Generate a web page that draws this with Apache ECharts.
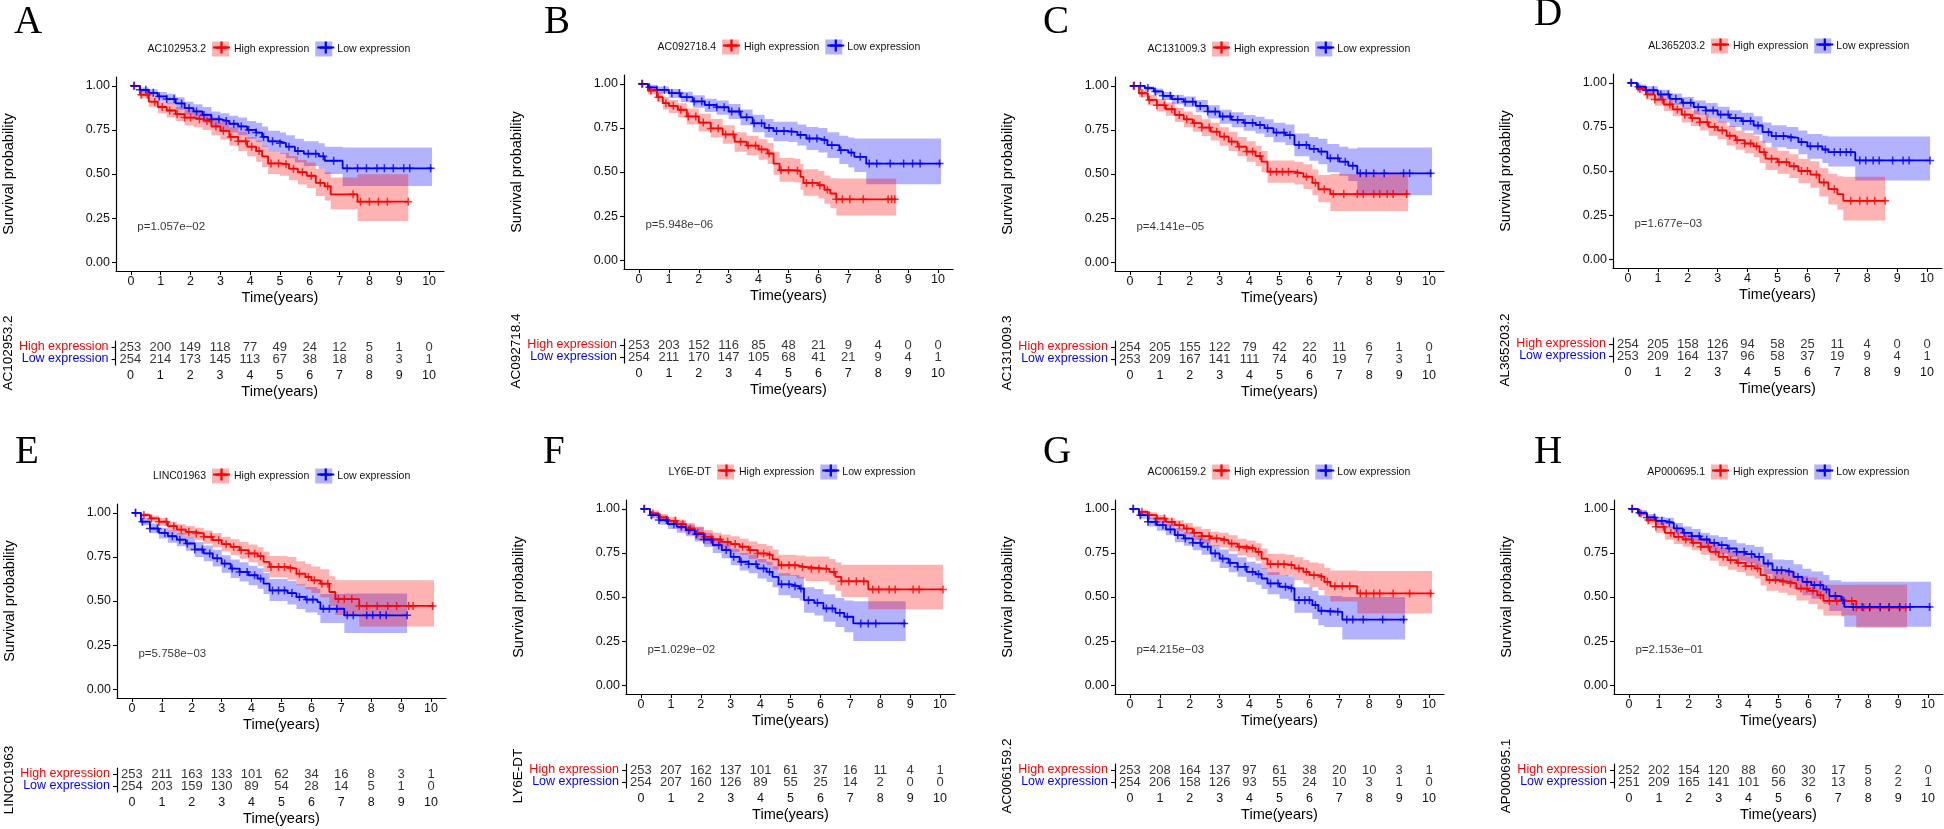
<!DOCTYPE html>
<html>
<head>
<meta charset="utf-8">
<script src="https://cdn.jsdelivr.net/npm/echarts@6/dist/echarts.min.js"></script>
<style>
  html, body { margin: 0; padding: 0; background: #fff; }
  #chart { width: 1944px; height: 829px; }
</style>
</head>
<body>
<div id="chart"></div>
<script>
'use strict';

var letters = ['A', 'B', 'C', 'D', 'E', 'F', 'G', 'H'];
var genes = ['AC102953.2', 'AC092718.4', 'AC131009.3', 'AL365203.2', 'LINC01963', 'LY6E-DT', 'AC006159.2', 'AP000695.1'];
var pvals = ['p=1.057e\u221202', 'p=5.948e\u221206', 'p=4.141e\u221205', 'p=1.677e\u221203', 'p=5.758e\u221203', 'p=1.029e\u221202', 'p=4.215e\u221203', 'p=2.153e\u221201'];
var years = [0, 1, 2, 3, 4, 5, 6, 7, 8, 9, 10];
var survTicks = [0, 0.25, 0.5, 0.75, 1];
var groups = ['Low expression', 'High expression'];

// curve rows: [time, survival, lower CI, upper CI]
var aHigh = [[0,1,1,1],[0.3,0.95,0.93,0.97],[0.6,0.91,0.88,0.94],[0.9,0.88,0.845,0.915],[1.2,0.86,0.82,0.9],[1.5,0.84,0.8,0.88],[1.8,0.82,0.775,0.865],[2.1,0.81,0.765,0.855],[2.4,0.8,0.75,0.845],[2.7,0.77,0.72,0.82],[3.0,0.745,0.695,0.795],[3.3,0.71,0.66,0.765],[3.6,0.685,0.63,0.74],[3.9,0.655,0.6,0.71],[4.2,0.63,0.57,0.69],[4.4,0.6,0.54,0.66],[4.6,0.56,0.5,0.625],[5.0,0.555,0.49,0.62],[5.3,0.53,0.465,0.6],[5.6,0.51,0.44,0.58],[5.9,0.49,0.42,0.565],[6.2,0.45,0.375,0.53],[6.5,0.43,0.35,0.51],[6.7,0.385,0.3,0.48],[7.6,0.343,0.233,0.498],[9.3,0.343,0.233,0.498]];
var aLow = [[0,1,1,1],[0.3,0.977,0.96,0.99],[0.6,0.96,0.94,0.98],[0.9,0.94,0.915,0.965],[1.2,0.925,0.895,0.955],[1.5,0.9,0.865,0.935],[1.8,0.873,0.835,0.91],[2.1,0.855,0.815,0.895],[2.4,0.835,0.79,0.88],[2.7,0.81,0.765,0.855],[3.0,0.8,0.75,0.845],[3.3,0.785,0.735,0.83],[3.6,0.77,0.72,0.82],[3.9,0.75,0.7,0.8],[4.2,0.735,0.68,0.79],[4.4,0.71,0.655,0.77],[4.6,0.685,0.625,0.745],[5.0,0.675,0.615,0.735],[5.2,0.655,0.59,0.72],[5.5,0.63,0.565,0.7],[5.8,0.615,0.545,0.685],[6.3,0.6,0.53,0.675],[6.5,0.575,0.5,0.655],[7.1,0.532,0.432,0.65],[10.1,0.532,0.432,0.65]];
var bHigh = [[0,1,1,1],[0.3,0.962,0.94,0.98],[0.6,0.924,0.895,0.955],[0.8,0.89,0.855,0.925],[1.0,0.875,0.835,0.91],[1.3,0.853,0.81,0.89],[1.6,0.815,0.77,0.86],[2.0,0.78,0.73,0.83],[2.4,0.747,0.695,0.8],[2.8,0.713,0.66,0.765],[3.2,0.672,0.615,0.725],[3.6,0.65,0.595,0.705],[4.0,0.628,0.57,0.685],[4.3,0.605,0.545,0.665],[4.5,0.548,0.485,0.615],[4.7,0.51,0.445,0.58],[5.2,0.507,0.44,0.575],[5.4,0.472,0.4,0.545],[5.5,0.438,0.365,0.515],[6.0,0.425,0.35,0.505],[6.2,0.4,0.32,0.48],[6.4,0.378,0.295,0.465],[6.6,0.345,0.254,0.463],[8.6,0.345,0.254,0.463]];
var bLow = [[0,1,1,1],[0.3,0.98,0.965,0.995],[0.6,0.966,0.945,0.985],[1.0,0.947,0.92,0.97],[1.4,0.924,0.895,0.955],[1.8,0.9,0.865,0.935],[2.2,0.88,0.84,0.915],[2.6,0.867,0.825,0.905],[3.0,0.843,0.8,0.885],[3.4,0.81,0.765,0.855],[3.8,0.776,0.725,0.825],[4.2,0.75,0.695,0.8],[4.5,0.732,0.675,0.785],[5.0,0.728,0.67,0.785],[5.3,0.71,0.65,0.77],[5.6,0.69,0.625,0.755],[6.0,0.68,0.61,0.75],[6.3,0.652,0.58,0.725],[6.7,0.624,0.545,0.705],[7.0,0.61,0.525,0.695],[7.2,0.586,0.5,0.69],[7.6,0.548,0.43,0.69],[10.1,0.548,0.43,0.69]];
var cHigh = [[0,1,1,1],[0.3,0.958,0.935,0.98],[0.6,0.92,0.89,0.95],[0.9,0.89,0.855,0.925],[1.2,0.867,0.83,0.905],[1.5,0.835,0.795,0.875],[1.8,0.81,0.765,0.855],[2.1,0.788,0.74,0.835],[2.4,0.763,0.715,0.81],[2.7,0.74,0.69,0.79],[3.0,0.712,0.66,0.765],[3.3,0.684,0.63,0.74],[3.6,0.655,0.6,0.71],[3.9,0.627,0.57,0.685],[4.2,0.602,0.545,0.66],[4.4,0.57,0.51,0.63],[4.6,0.513,0.45,0.577],[5.5,0.504,0.44,0.57],[5.8,0.485,0.415,0.555],[6.1,0.45,0.38,0.525],[6.3,0.413,0.34,0.495],[6.7,0.386,0.29,0.5],[9.3,0.386,0.29,0.5]];
var cLow = [[0,1,1,1],[0.5,0.987,0.975,0.998],[0.8,0.968,0.95,0.985],[1.1,0.943,0.92,0.965],[1.4,0.924,0.895,0.95],[1.8,0.91,0.88,0.94],[2.2,0.886,0.85,0.92],[2.6,0.854,0.815,0.89],[3.0,0.826,0.785,0.865],[3.4,0.807,0.765,0.85],[3.8,0.79,0.745,0.835],[4.2,0.778,0.73,0.825],[4.5,0.76,0.71,0.81],[4.8,0.735,0.68,0.79],[5.2,0.72,0.665,0.78],[5.5,0.665,0.6,0.73],[6.0,0.642,0.575,0.71],[6.3,0.627,0.555,0.7],[6.6,0.589,0.51,0.67],[7.0,0.57,0.49,0.655],[7.3,0.547,0.46,0.645],[7.6,0.504,0.38,0.65],[10.1,0.504,0.38,0.65]];
var dHigh = [[0,1,1,1],[0.3,0.966,0.945,0.985],[0.6,0.934,0.905,0.96],[0.9,0.905,0.87,0.935],[1.2,0.877,0.84,0.91],[1.5,0.849,0.81,0.885],[1.8,0.82,0.775,0.86],[2.1,0.8,0.755,0.845],[2.4,0.777,0.73,0.825],[2.7,0.75,0.7,0.8],[3.0,0.73,0.68,0.78],[3.3,0.7,0.645,0.755],[3.6,0.675,0.62,0.73],[3.9,0.656,0.6,0.715],[4.2,0.64,0.58,0.7],[4.4,0.607,0.545,0.67],[4.6,0.57,0.505,0.635],[5.0,0.55,0.485,0.615],[5.4,0.527,0.46,0.595],[5.7,0.5,0.43,0.57],[6.1,0.48,0.405,0.555],[6.4,0.435,0.355,0.515],[6.7,0.397,0.31,0.485],[7.0,0.369,0.28,0.47],[7.2,0.331,0.22,0.467],[8.6,0.331,0.22,0.467]];
var dLow = [[0,1,1,1],[0.3,0.977,0.96,0.99],[0.6,0.958,0.935,0.98],[1.0,0.934,0.905,0.96],[1.4,0.909,0.875,0.94],[1.8,0.887,0.85,0.92],[2.2,0.862,0.82,0.9],[2.6,0.843,0.8,0.885],[3.0,0.82,0.775,0.865],[3.4,0.8,0.75,0.845],[3.8,0.783,0.73,0.83],[4.2,0.758,0.705,0.81],[4.5,0.72,0.66,0.775],[4.8,0.698,0.635,0.76],[5.3,0.688,0.625,0.75],[5.7,0.664,0.595,0.73],[6.0,0.64,0.57,0.71],[6.5,0.622,0.545,0.7],[6.7,0.607,0.525,0.696],[7.6,0.56,0.446,0.696],[10.1,0.56,0.446,0.696]];
var eHigh = [[0,1,1,1],[0.3,0.987,0.975,0.998],[0.6,0.968,0.95,0.985],[0.9,0.95,0.925,0.97],[1.2,0.924,0.895,0.95],[1.5,0.905,0.875,0.935],[1.8,0.892,0.86,0.925],[2.1,0.883,0.845,0.915],[2.4,0.864,0.825,0.9],[2.7,0.845,0.805,0.885],[3.0,0.822,0.78,0.865],[3.3,0.807,0.76,0.85],[3.6,0.788,0.74,0.835],[3.9,0.77,0.72,0.82],[4.2,0.754,0.7,0.805],[4.4,0.722,0.665,0.78],[4.6,0.693,0.635,0.755],[5.2,0.684,0.62,0.75],[5.5,0.655,0.59,0.725],[5.8,0.636,0.565,0.71],[6.0,0.617,0.545,0.695],[6.3,0.598,0.52,0.68],[6.6,0.551,0.47,0.64],[6.8,0.511,0.42,0.617],[7.6,0.472,0.356,0.617],[10.1,0.472,0.356,0.617]];
var eLow = [[0,1,1,1],[0.3,0.95,0.93,0.97],[0.6,0.911,0.885,0.94],[0.9,0.886,0.855,0.915],[1.2,0.867,0.83,0.9],[1.5,0.848,0.81,0.885],[1.8,0.826,0.785,0.865],[2.1,0.792,0.75,0.835],[2.4,0.77,0.725,0.815],[2.7,0.742,0.695,0.79],[3.0,0.712,0.66,0.76],[3.3,0.684,0.63,0.735],[3.6,0.665,0.61,0.72],[3.9,0.646,0.59,0.7],[4.2,0.627,0.57,0.685],[4.4,0.598,0.54,0.66],[4.6,0.56,0.5,0.625],[5.2,0.545,0.48,0.615],[5.5,0.523,0.455,0.595],[5.8,0.508,0.435,0.58],[6.2,0.494,0.42,0.57],[6.3,0.456,0.375,0.54],[7.1,0.419,0.318,0.542],[9.2,0.419,0.318,0.542]];
var fHigh = [[0,1,1,1],[0.3,0.974,0.96,0.99],[0.6,0.951,0.93,0.97],[0.9,0.932,0.905,0.955],[1.2,0.913,0.885,0.94],[1.5,0.889,0.855,0.92],[1.8,0.864,0.825,0.9],[2.1,0.841,0.8,0.88],[2.4,0.826,0.785,0.865],[2.7,0.813,0.77,0.855],[3.0,0.8,0.755,0.845],[3.3,0.785,0.74,0.83],[3.6,0.766,0.715,0.815],[3.9,0.747,0.695,0.8],[4.2,0.737,0.68,0.79],[4.4,0.713,0.655,0.77],[4.6,0.68,0.62,0.74],[5.2,0.67,0.605,0.735],[5.5,0.66,0.59,0.73],[6.3,0.643,0.57,0.715],[6.5,0.614,0.535,0.695],[6.7,0.589,0.5,0.683],[7.6,0.543,0.43,0.683],[10.1,0.543,0.43,0.683]];
var fLow = [[0,1,1,1],[0.3,0.964,0.945,0.98],[0.6,0.936,0.91,0.96],[0.9,0.913,0.885,0.94],[1.2,0.898,0.865,0.93],[1.5,0.879,0.845,0.91],[1.8,0.856,0.815,0.895],[2.1,0.826,0.785,0.865],[2.4,0.794,0.75,0.835],[2.7,0.766,0.72,0.81],[3.0,0.728,0.68,0.775],[3.3,0.7,0.65,0.75],[3.6,0.686,0.635,0.74],[3.9,0.662,0.605,0.715],[4.2,0.643,0.585,0.7],[4.4,0.614,0.555,0.675],[4.6,0.572,0.51,0.635],[5.0,0.561,0.495,0.625],[5.3,0.548,0.48,0.615],[5.45,0.482,0.41,0.555],[5.8,0.467,0.395,0.545],[6.1,0.435,0.36,0.515],[6.5,0.41,0.33,0.495],[6.8,0.388,0.3,0.48],[7.1,0.35,0.251,0.476],[8.85,0.35,0.251,0.476]];
var gHigh = [[0,1,1,1],[0.3,0.983,0.97,0.995],[0.6,0.964,0.945,0.98],[0.9,0.945,0.92,0.965],[1.2,0.926,0.9,0.95],[1.5,0.907,0.875,0.935],[1.8,0.888,0.855,0.92],[2.1,0.864,0.825,0.9],[2.4,0.845,0.805,0.885],[2.7,0.832,0.79,0.87],[3.0,0.822,0.78,0.865],[3.3,0.803,0.76,0.85],[3.6,0.785,0.735,0.83],[3.9,0.775,0.725,0.82],[4.2,0.756,0.705,0.805],[4.4,0.718,0.66,0.775],[4.6,0.686,0.625,0.745],[5.2,0.68,0.62,0.74],[5.5,0.662,0.595,0.725],[5.8,0.643,0.575,0.71],[6.0,0.624,0.555,0.695],[6.3,0.614,0.54,0.69],[6.5,0.586,0.505,0.665],[6.7,0.561,0.475,0.65],[7.6,0.52,0.406,0.648],[10.1,0.52,0.406,0.648]];
var gLow = [[0,1,1,1],[0.3,0.964,0.945,0.98],[0.6,0.926,0.9,0.95],[0.9,0.907,0.875,0.935],[1.2,0.883,0.85,0.915],[1.5,0.851,0.81,0.89],[1.8,0.832,0.79,0.87],[2.1,0.807,0.765,0.85],[2.4,0.785,0.74,0.83],[2.7,0.747,0.7,0.795],[3.0,0.718,0.665,0.77],[3.3,0.694,0.64,0.745],[3.6,0.671,0.615,0.725],[3.9,0.643,0.585,0.7],[4.2,0.629,0.57,0.69],[4.4,0.605,0.545,0.665],[4.6,0.577,0.515,0.64],[5.0,0.558,0.49,0.625],[5.3,0.548,0.48,0.618],[5.5,0.482,0.41,0.555],[6.1,0.454,0.375,0.535],[6.3,0.422,0.34,0.51],[6.5,0.416,0.33,0.505],[7.1,0.372,0.259,0.5],[9.2,0.372,0.259,0.5]];
var hHigh = [[0,1,1,1],[0.3,0.974,0.96,0.99],[0.6,0.936,0.91,0.96],[0.9,0.898,0.865,0.93],[1.2,0.864,0.825,0.9],[1.5,0.841,0.8,0.88],[1.8,0.826,0.785,0.865],[2.1,0.807,0.765,0.85],[2.4,0.785,0.74,0.83],[2.7,0.756,0.705,0.805],[3.0,0.728,0.675,0.78],[3.3,0.709,0.655,0.76],[3.6,0.694,0.64,0.75],[3.9,0.675,0.62,0.73],[4.2,0.662,0.605,0.72],[4.4,0.624,0.565,0.685],[4.6,0.597,0.535,0.66],[5.0,0.587,0.524,0.652],[5.3,0.577,0.51,0.645],[5.6,0.548,0.48,0.62],[6.0,0.535,0.46,0.61],[6.3,0.51,0.43,0.595],[6.5,0.478,0.395,0.57],[7.6,0.44,0.325,0.571],[9.3,0.44,0.325,0.571]];
var hLow = [[0,1,1,1],[0.3,0.977,0.96,0.99],[0.6,0.951,0.93,0.97],[0.9,0.932,0.905,0.955],[1.2,0.921,0.89,0.95],[1.5,0.889,0.855,0.92],[1.8,0.864,0.825,0.9],[2.1,0.845,0.805,0.885],[2.4,0.826,0.785,0.865],[2.7,0.807,0.76,0.85],[3.0,0.794,0.745,0.84],[3.3,0.775,0.725,0.825],[3.6,0.756,0.705,0.805],[3.9,0.743,0.69,0.795],[4.2,0.728,0.67,0.785],[4.5,0.69,0.63,0.75],[4.8,0.652,0.586,0.713],[5.2,0.643,0.575,0.71],[5.5,0.614,0.545,0.685],[5.8,0.586,0.51,0.66],[6.1,0.567,0.49,0.645],[6.5,0.543,0.46,0.625],[6.7,0.505,0.42,0.595],[7.1,0.482,0.39,0.586],[7.2,0.444,0.331,0.586],[10.1,0.444,0.331,0.586]];

// censoring times
var aHighCens = [0.12,0.35,0.55,0.8,1.05,1.3,1.55,1.8,2.0,2.3,2.55,2.85,3.1,3.35,3.6,3.85,4.05,4.3,4.7,4.95,5.2,5.45,5.75,6.05,6.35,6.6,7.45,7.7,8.0,8.3,8.6,9.3];
var aLowCens = [0.1,0.3,0.5,0.75,0.95,1.2,1.45,1.7,1.95,2.2,2.45,2.7,2.95,3.2,3.45,3.7,3.95,4.2,4.45,4.75,5.0,5.3,5.6,5.95,6.2,6.45,6.8,7.25,7.6,7.9,8.25,8.5,8.8,9.15,9.35,10.05];
var bHighCens = [0.12,0.4,0.65,0.9,1.15,1.4,1.65,1.9,2.15,2.4,2.65,2.9,3.15,3.4,3.65,3.9,4.1,4.35,4.75,5.0,5.3,5.6,5.8,6.05,6.3,6.6,6.8,7.05,7.5,8.33,8.45,8.55];
var bLowCens = [0.1,0.35,0.6,0.85,1.1,1.35,1.6,1.85,2.1,2.35,2.6,2.85,3.1,3.35,3.6,3.85,4.1,4.35,4.6,4.85,5.1,5.4,5.7,5.95,6.2,6.45,6.75,7.1,7.4,7.7,7.95,8.4,8.85,9.15,9.4,10.05];
var cHighCens = [0.15,0.4,0.65,0.9,1.15,1.4,1.65,1.9,2.15,2.4,2.65,2.9,3.15,3.4,3.65,3.9,4.1,4.35,4.7,4.9,5.1,5.3,5.6,5.9,6.2,6.5,6.8,7.15,7.6,7.8,8.15,8.35,8.6,8.8,9.25];
var cLowCens = [0.12,0.35,0.6,0.85,1.1,1.35,1.6,1.85,2.1,2.35,2.6,2.85,3.1,3.35,3.6,3.85,4.1,4.35,4.6,4.9,5.15,5.35,5.65,5.9,6.15,6.4,6.7,6.95,7.2,7.45,7.7,7.9,8.15,8.5,9.15,9.35,10.05];
var dHighCens = [0.12,0.4,0.65,0.9,1.15,1.4,1.65,1.9,2.15,2.4,2.65,2.9,3.15,3.4,3.65,3.9,4.1,4.3,4.55,4.8,5.05,5.3,5.55,5.8,6.0,6.3,6.55,6.9,7.45,7.75,8.0,8.25,8.6];
var dLowCens = [0.1,0.35,0.6,0.85,1.1,1.35,1.6,1.85,2.1,2.35,2.6,2.85,3.1,3.35,3.6,3.85,4.1,4.35,4.7,4.95,5.2,5.45,5.8,6.1,6.35,6.6,6.9,7.1,7.3,7.45,7.75,7.95,8.2,8.4,8.85,9.2,9.4,10.1];
var eHighCens = [0.12,0.4,0.65,0.9,1.15,1.4,1.65,1.9,2.15,2.4,2.65,2.9,3.15,3.4,3.65,3.9,4.1,4.3,4.65,4.9,5.1,5.3,5.6,5.9,6.1,6.35,6.55,6.9,7.1,7.35,7.6,7.85,8.2,8.55,8.85,9.25,9.4,10.05];
var eLowCens = [0.12,0.35,0.6,0.85,1.1,1.35,1.6,1.85,2.1,2.35,2.6,2.85,3.1,3.35,3.6,3.85,4.1,4.3,4.7,4.9,5.1,5.35,5.6,5.85,6.05,6.4,6.6,6.85,7.2,7.4,7.85,8.05,8.3,8.5,9.2];
var fHighCens = [0.12,0.4,0.65,0.9,1.15,1.4,1.65,1.9,2.15,2.4,2.65,2.9,3.15,3.4,3.65,3.9,4.1,4.3,4.7,4.95,5.15,5.4,5.7,5.95,6.2,6.45,6.7,6.95,7.2,7.45,7.75,7.95,8.3,8.5,9.1,9.3,10.1];
var fLowCens = [0.1,0.35,0.6,0.85,1.1,1.35,1.6,1.85,2.1,2.35,2.6,2.85,3.1,3.35,3.6,3.85,4.1,4.3,4.7,4.95,5.15,5.35,5.6,5.9,6.2,6.4,6.65,6.9,7.35,7.6,7.85,8.8];
var gHighCens = [0.12,0.4,0.65,0.9,1.15,1.4,1.65,1.9,2.15,2.4,2.65,2.9,3.15,3.4,3.65,3.9,4.1,4.3,4.7,4.95,5.15,5.4,5.65,5.9,6.15,6.4,6.6,6.85,7.1,7.35,7.7,7.9,8.15,8.35,8.8,9.35,10.05];
var gLowCens = [0.1,0.35,0.6,0.85,1.1,1.35,1.6,1.85,2.1,2.35,2.6,2.85,3.1,3.35,3.6,3.85,4.1,4.3,4.7,4.95,5.2,5.4,5.65,5.85,6.0,6.2,6.4,6.7,6.95,7.25,7.45,7.8,8.45,9.15];
var hHighCens = [0.12,0.4,0.65,0.9,1.15,1.4,1.65,1.9,2.15,2.4,2.65,2.9,3.15,3.4,3.65,3.9,4.1,4.3,4.7,4.9,5.15,5.4,5.75,5.95,6.15,6.4,6.7,6.95,7.2,7.45,7.6,7.85,8.05,8.4,8.7,9.05,9.25];
var hLowCens = [0.1,0.35,0.6,0.85,1.1,1.35,1.6,1.85,2.1,2.35,2.6,2.85,3.1,3.35,3.6,3.85,4.1,4.35,4.65,4.95,5.1,5.35,5.65,5.95,6.2,6.4,6.6,6.9,7.15,7.5,7.8,8.05,8.4,8.7,9.05,9.4,10.05];

// number at risk, years 0..10
var aHighRisk = [253,200,149,118,77,49,24,12,5,1,0];
var aLowRisk = [254,214,173,145,113,67,38,18,8,3,1];
var bHighRisk = [253,203,152,116,85,48,21,9,4,0,0];
var bLowRisk = [254,211,170,147,105,68,41,21,9,4,1];
var cHighRisk = [254,205,155,122,79,42,22,11,6,1,0];
var cLowRisk = [253,209,167,141,111,74,40,19,7,3,1];
var dHighRisk = [254,205,158,126,94,58,25,11,4,0,0];
var dLowRisk = [253,209,164,137,96,58,37,19,9,4,1];
var eHighRisk = [253,211,163,133,101,62,34,16,8,3,1];
var eLowRisk = [254,203,159,130,89,54,28,14,5,1,0];
var fHighRisk = [253,207,162,137,101,61,37,16,11,4,1];
var fLowRisk = [254,207,160,126,89,55,25,14,2,0,0];
var gHighRisk = [253,208,164,137,97,61,38,20,10,3,1];
var gLowRisk = [254,206,158,126,93,55,24,10,3,1,0];
var hHighRisk = [252,202,154,120,88,60,30,17,5,2,0];
var hLowRisk = [251,209,165,141,101,56,32,13,8,2,1];

var highCurves = [aHigh, bHigh, cHigh, dHigh, eHigh, fHigh, gHigh, hHigh];
var lowCurves = [aLow, bLow, cLow, dLow, eLow, fLow, gLow, hLow];
var highCens = [aHighCens, bHighCens, cHighCens, dHighCens, eHighCens, fHighCens, gHighCens, hHighCens];
var lowCens = [aLowCens, bLowCens, cLowCens, dLowCens, eLowCens, fLowCens, gLowCens, hLowCens];
var highRisk = [aHighRisk, bHighRisk, cHighRisk, dHighRisk, eHighRisk, fHighRisk, gHighRisk, hHighRisk];
var lowRisk = [aLowRisk, bLowRisk, cLowRisk, dLowRisk, eLowRisk, fLowRisk, gLowRisk, hLowRisk];

// layout (pixels)
var panelLeft = [115, 624, 1115, 1613, 117, 626, 1115, 1614];
var panelTop = [77, 75, 77, 74, 504, 500, 500, 500];
var keyLeft = [212, 722, 1212, 1711, 212, 717, 1212, 1711];
var letterX = [14, 544, 1043, 1534, 15, 543, 1043, 1534];
var letterBase = [37, 37, 37, 29, 467, 467, 467, 467];
var plotW = 329, plotH = 194;

var RED = '#FF0000', BLUE = '#0000FF';
var RED_BAND = 'rgba(255,0,0,0.3)', BLUE_BAND = 'rgba(0,0,255,0.3)';
var SANS = '"Liberation Sans", Arial, Helvetica, sans-serif';
var PLUS = 'path://M0,3.25H8V4.75H0Z M3.25,0H4.75V8H3.25Z';

function survAt(rows, t) {
  var s = rows[0][1];
  for (var k = 0; k < rows.length; k++) {
    if (rows[k][0] <= t) s = rows[k][1];
  }
  return s;
}

function bandSeries(rows, color, idx) {
  return {
    type: 'custom', xAxisIndex: idx, yAxisIndex: idx, silent: true,
    data: [[0, 0]],
    renderItem: function (params, api) {
      var up = [], dn = [];
      for (var k = 0; k < rows.length - 1; k++) {
        up.push(api.coord([rows[k][0], rows[k][3]]), api.coord([rows[k + 1][0], rows[k][3]]));
        dn.push(api.coord([rows[k][0], rows[k][2]]), api.coord([rows[k + 1][0], rows[k][2]]));
      }
      return {type: 'polygon', shape: {points: up.concat(dn.reverse())}, style: {fill: color}};
    }
  };
}

function curveSeries(name, rows, color, idx) {
  return {
    type: 'line', name: name, xAxisIndex: idx, yAxisIndex: idx,
    step: 'end', symbol: PLUS, showSymbol: false, silent: true,
    color: color,
    lineStyle: {color: color, width: 1.8},
    data: rows.map(function (r) { return [r[0], r[1]]; })
  };
}

function censSeries(rows, times, color, idx) {
  return {
    type: 'scatter', name: 'censor', xAxisIndex: idx, yAxisIndex: idx, silent: true,
    symbol: PLUS, symbolSize: 8,
    itemStyle: {color: color},
    data: times.map(function (t) { return [t, survAt(rows, t)]; })
  };
}

function axisX(idx) {
  return {
    type: 'value', gridIndex: idx, min: -0.5, max: 10.5,
    name: 'Time(years)', nameLocation: 'middle', nameGap: 19,
    nameTextStyle: {fontFamily: SANS, fontSize: 14.5, color: '#000'},
    axisLine: {onZero: false, lineStyle: {color: '#000', width: 1.2}},
    axisTick: {customValues: years, length: 4, lineStyle: {color: '#000', width: 1.1}},
    axisLabel: {customValues: years, margin: 4, fontFamily: SANS, fontSize: 12.5, color: '#111'},
    splitLine: {show: false}
  };
}

var grids = [], xAxes = [], yAxes = [], series = [], legends = [], graphics = [];

for (var i = 0; i < 8; i++) {
  var pi = 2 * i, ri = 2 * i + 1;
  grids.push({left: panelLeft[i], top: panelTop[i], width: plotW, height: plotH});
  grids.push({left: panelLeft[i], top: panelTop[i] + 264, width: plotW, height: 24});

  xAxes.push(axisX(pi));
  xAxes.push(axisX(ri));

  yAxes.push({
    type: 'value', gridIndex: pi, min: -0.05, max: 1.05,
    name: 'Survival probability', nameLocation: 'middle', nameGap: 100, nameRotate: 90,
    nameTextStyle: {fontFamily: SANS, fontSize: 14.5, color: '#000'},
    axisLine: {show: true, onZero: false, lineStyle: {color: '#000', width: 1.2}},
    axisTick: {show: true, customValues: survTicks, length: 4, lineStyle: {color: '#000', width: 1.1}},
    axisLabel: {customValues: survTicks, margin: 6, fontFamily: SANS, fontSize: 12.5, color: '#111',
      formatter: function (v) { return v.toFixed(2); }},
    splitLine: {show: false}
  });
  yAxes.push({
    type: 'category', gridIndex: ri, data: groups,
    name: genes[i], nameLocation: 'middle', nameGap: 100, nameRotate: 90,
    nameTextStyle: {fontFamily: SANS, fontSize: 13.5, color: '#000'},
    axisLine: {show: true, onZero: false, lineStyle: {color: '#000', width: 1.2}},
    axisTick: {show: true, alignWithLabel: true, interval: 0, length: 4, lineStyle: {color: '#000', width: 1.1}},
    axisLabel: {interval: 0, margin: 7, fontFamily: SANS, fontSize: 12.5,
      color: function (v) { return v === 'High expression' ? RED : BLUE; }},
    splitLine: {show: false}
  });

  series.push(bandSeries(lowCurves[i], BLUE_BAND, pi));
  series.push(bandSeries(highCurves[i], RED_BAND, pi));
  series.push(curveSeries('High expression', highCurves[i], RED, pi));
  series.push(curveSeries('Low expression', lowCurves[i], BLUE, pi));
  series.push(censSeries(highCurves[i], highCens[i], RED, pi));
  series.push(censSeries(lowCurves[i], lowCens[i], BLUE, pi));
  series.push({
    type: 'scatter', xAxisIndex: pi, yAxisIndex: pi, silent: true,
    symbolSize: 1, itemStyle: {color: 'rgba(0,0,0,0)'},
    label: {show: true, position: 'right', distance: 0, formatter: pvals[i],
      fontFamily: SANS, fontSize: 11.5, color: '#000'},
    data: [[0.2, 0.2]]
  });

  var riskData = [];
  for (var k = 0; k < years.length; k++) {
    riskData.push([years[k], 'High expression', highRisk[i][k]]);
    riskData.push([years[k], 'Low expression', lowRisk[i][k]]);
  }
  series.push({
    type: 'scatter', xAxisIndex: ri, yAxisIndex: ri, silent: true,
    symbolSize: 1, itemStyle: {color: 'rgba(0,0,0,0)'},
    label: {show: true, position: 'inside', fontFamily: SANS, fontSize: 13, color: '#000',
      formatter: function (p) { return String(p.value[2]); }},
    data: riskData
  });

  var legTop = panelTop[i] - 35.5;
  legends.push({
    left: keyLeft[i], top: legTop, orient: 'horizontal', padding: 0,
    itemWidth: 17, itemHeight: 15, itemGap: 6, selectedMode: false,
    textStyle: {fontFamily: SANS, fontSize: 10.5, color: '#111'},
    itemStyle: {borderWidth: 0},
    data: [
      {name: 'High expression', icon: 'rect', itemStyle: {color: RED_BAND, borderWidth: 0}},
      {name: 'Low expression', icon: 'rect', itemStyle: {color: BLUE_BAND, borderWidth: 0}}
    ]
  });
  legends.push({
    left: keyLeft[i], top: legTop, orient: 'horizontal', padding: 0, z: 5,
    itemWidth: 17, itemHeight: 15, itemGap: 6, selectedMode: false,
    textStyle: {fontFamily: SANS, fontSize: 10.5, color: 'rgba(0,0,0,0)'},
    itemStyle: {borderWidth: 0},
    data: ['High expression', 'Low expression']
  });

  graphics.push({
    type: 'text', x: keyLeft[i] - 6, y: panelTop[i] - 27.5, silent: true,
    style: {text: genes[i], fill: '#111', font: '10.5px ' + SANS, align: 'right', verticalAlign: 'middle'}
  });
  graphics.push({
    type: 'text', x: letterX[i], y: letterBase[i] - 14.5, silent: true,
    style: {text: letters[i], fill: '#000', font: '39px "Liberation Serif", "Times New Roman", serif',
      align: 'left', verticalAlign: 'middle'}
  });
}

var chart = echarts.init(document.getElementById('chart'));
chart.setOption({
  animation: false,
  backgroundColor: '#fff',
  grid: grids,
  xAxis: xAxes,
  yAxis: yAxes,
  legend: legends,
  graphic: graphics,
  series: series
});
</script>
</body>
</html>
